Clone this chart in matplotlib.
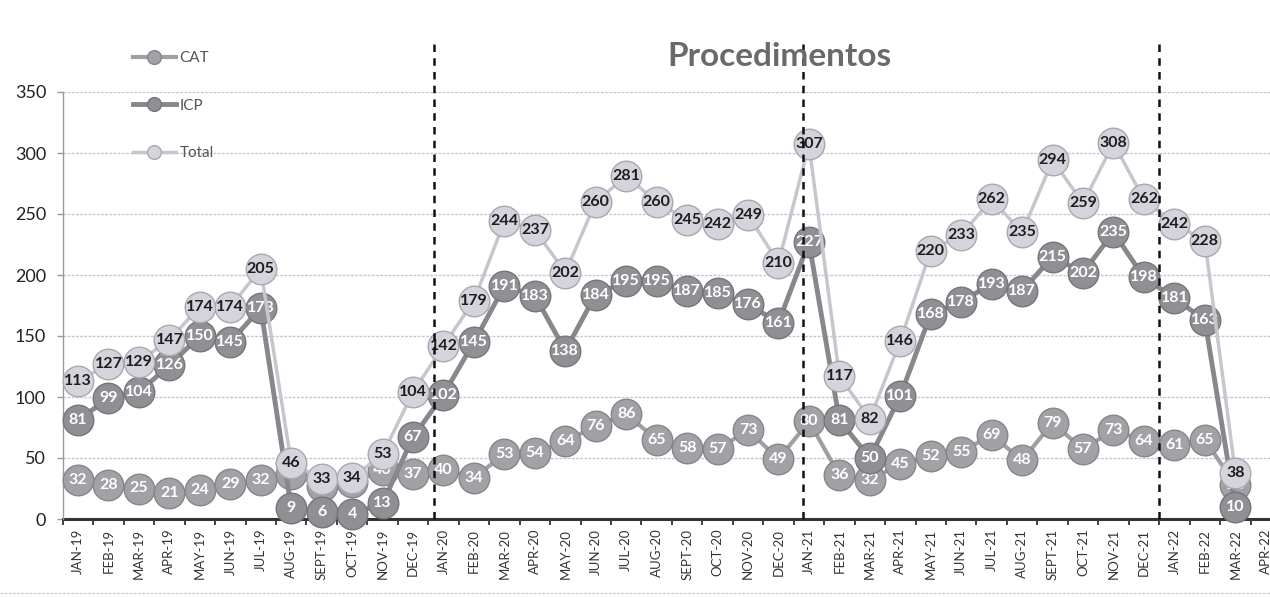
import matplotlib
matplotlib.use("Agg")
import matplotlib.pyplot as plt
from matplotlib.lines import Line2D
import numpy as np

plt.rcParams['font.family'] = ['Lato', 'DejaVu Sans']

months = ['JAN-19', 'FEB-19', 'MAR-19', 'APR-19', 'MAY-19', 'JUN-19', 'JUL-19', 'AUG-19',
          'SEPT-19', 'OCT-19', 'NOV-19', 'DEC-19', 'JAN-20', 'FEB-20', 'MAR-20', 'APR-20',
          'MAY-20', 'JUN-20', 'JUL-20', 'AUG-20', 'SEPT-20', 'OCT-20', 'NOV-20', 'DEC-20',
          'JAN-21', 'FEB-21', 'MAR-21', 'APR-21', 'MAY-21', 'JUN-21', 'JUL-21', 'AUG-21',
          'SEPT-21', 'OCT-21', 'NOV-21', 'DEC-21', 'JAN-22', 'FEB-22', 'MAR-22', 'APR-22']

cat = [32, 28, 25, 21, 24, 29, 32, 37, 27, 30, 40, 37,
       40, 34, 53, 54, 64, 76, 86, 65, 58, 57, 73, 49,
       80, 36, 32, 45, 52, 55, 69, 48, 79, 57, 73, 64,
       61, 65, 28]
icp = [81, 99, 104, 126, 150, 145, 173, 9, 6, 4, 13, 67,
       102, 145, 191, 183, 138, 184, 195, 195, 187, 185, 176, 161,
       227, 81, 50, 101, 168, 178, 193, 187, 215, 202, 235, 198,
       181, 163, 10]
total = [113, 127, 129, 147, 174, 174, 205, 46, 33, 34, 53, 104,
         142, 179, 244, 237, 202, 260, 281, 260, 245, 242, 249, 210,
         307, 117, 82, 146, 220, 233, 262, 235, 294, 259, 308, 262,
         242, 228, 38]

# year dividers (hand drawn dashed lines in the original)
dividers = [11.7, 23.8, 35.5]

W, H = 1270, 598
fig = plt.figure(figsize=(W / 100, H / 100), dpi=100)
fig.patch.set_facecolor('white')

left_px, right_px = 62.8, 1281
bot_px, top_px = 519, 92
ax = fig.add_axes([left_px / W, 1 - bot_px / H, (right_px - left_px) / W, (bot_px - top_px) / H])
ax.set_facecolor('none')

x = np.arange(len(cat))

series = [
    ('CAT', cat, '#a2a2a6', '#86868a', '#a0a0a4', 3.0, 'white', 3),
    ('ICP', icp, '#909094', '#76767a', '#88888c', 3.5, 'white', 5),
    ('Total', total, '#d4d5dc', '#a8a9b0', '#c6c7ce', 2.5, '#1e1e1e', 7),
]

for name, vals, face, edge, lcol, lw, tcol, z in series:
    ax.plot(x, vals, color=lcol, lw=lw, marker='o', markersize=22,
            markerfacecolor=face, markeredgecolor=edge, markeredgewidth=1.0,
            label=name, zorder=z, clip_on=False)
    for xi, v in zip(x, vals):
        ax.text(xi, v, str(v), ha='center', va='center', fontsize=11.5,
                fontweight='bold', color=tcol, zorder=z + 0.5)

ax.set_xlim(-0.5, len(months) - 0.5)
ax.set_ylim(0, 350)
ax.set_yticks(np.arange(0, 351, 50))
ax.tick_params(axis='y', labelsize=13, colors='#999999', labelcolor='#222222',
               length=4, width=1, pad=8)

ax.set_xticks(np.arange(len(months)))
ax.set_xticklabels(months, rotation=90, fontsize=9.5, color='#333333')
ax.tick_params(axis='x', which='major', length=0, pad=7)
ax.set_xticks(np.arange(len(months) + 1) - 0.5, minor=True)
ax.tick_params(axis='x', which='minor', length=4, width=1.3, color='#333333', direction='out')

ax.grid(axis='y', color='#c4c7d0', lw=1.0, linestyle=(0, (2, 1)))
ax.set_axisbelow(True)
for s in ['top', 'right']:
    ax.spines[s].set_visible(False)
ax.spines['left'].set_color('#9a9a9a')
ax.spines['left'].set_linewidth(1.0)
ax.spines['bottom'].set_color('#333333')
ax.spines['bottom'].set_linewidth(2.2)
ax.spines['bottom'].set_zorder(2)

# dashed dividers extending above plot area
for d in dividers:
    ax.plot([d, d], [0, 1.115], transform=ax.get_xaxis_transform(), color='#111111',
            lw=1.8, linestyle=(0, (3, 2.5)), clip_on=False, zorder=9)

fig.text(780 / W, 1 - 56 / H, 'Procedimentos', ha='center', va='center',
         fontsize=24, fontweight='bold', color='#6a6a6a')

leg = fig.legend(loc='upper left', bbox_to_anchor=(133 / W, 1 - 51 / H), frameon=False,
                 fontsize=11, labelspacing=2.2, handlelength=2.8, handletextpad=0.25,
                 markerscale=0.45, borderpad=0, borderaxespad=0)
for t in leg.get_texts():
    t.set_color('#555555')

# faint chart border at bottom
fig.add_artist(Line2D([0.0, 1.0], [1 - 593 / H, 1 - 593 / H], color='#d0d0d0', lw=1,
                      linestyle=(0, (2, 1))))

fig.savefig('out.png', dpi=100)
